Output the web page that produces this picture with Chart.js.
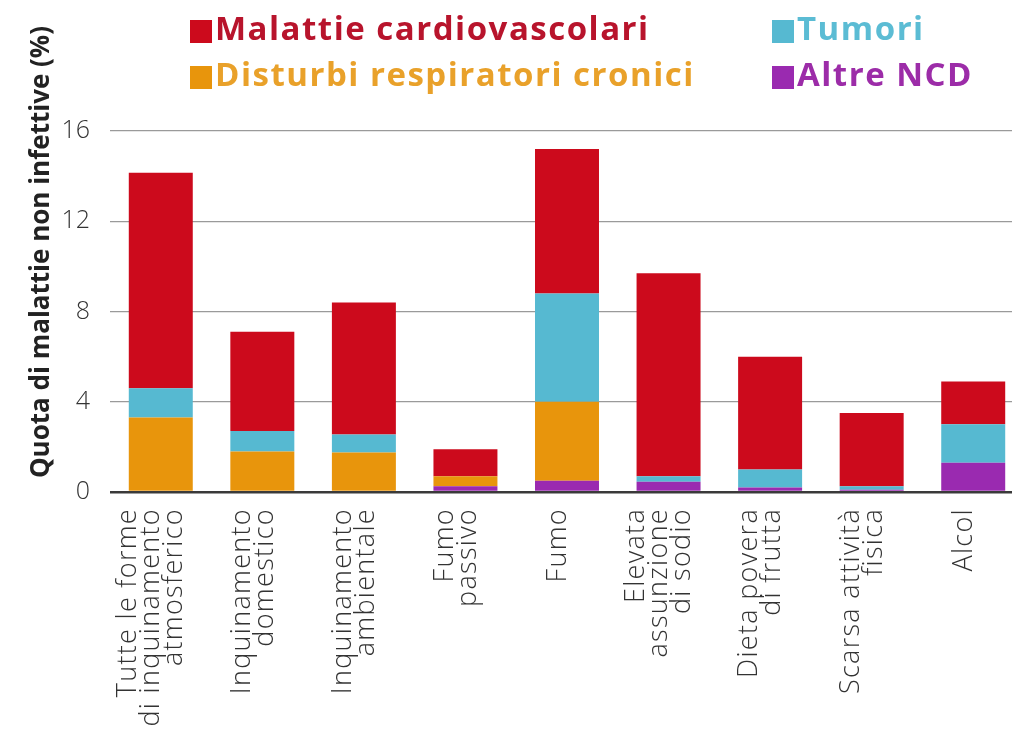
<!DOCTYPE html>
<html>
<head>
<meta charset="utf-8">
<script src="https://cdn.jsdelivr.net/npm/chart.js@4"></script>
<style>
html, body { margin: 0; padding: 0; background: #fff; overflow: hidden; }
#wrap { width: 1025px; height: 749px; }
</style>
</head>
<body>
<div id="wrap"><canvas id="ncdChart"></canvas></div>
<script>
// categorie (etichette su piu righe)
var categories = [
    ["Tutte le forme", "di inquinamento", "atmosferico"],
    ["Inquinamento", "domestico"],
    ["Inquinamento", "ambientale"],
    ["Fumo", "passivo"],
    ["Fumo"],
    ["Elevata", "assunzione", "di sodio"],
    ["Dieta povera", "di frutta"],
    ["Scarsa attività", "fisica"],
    ["Alcol"]
];

// valori (%), dal basso verso l'alto
var altreNcd    = [0,    0,    0,    0.25, 0.5, 0.45, 0.2, 0.1,  1.3];
var respiratori = [3.3,  1.8,  1.75, 0.45, 3.5, 0,    0,   0,    0];
var tumori      = [1.3,  0.9,  0.8,  0,    4.8, 0.25, 0.8, 0.15, 1.7];
var cardio      = [9.55, 4.4,  5.85, 1.2,  6.4, 9.0,  5.0, 3.25, 1.9];

var yTicks = [0, 4, 8, 12, 16];
var yTitle = "Quota di malattie non infettive (%)";

var legendItems = [
    { text: "Malattie cardiovascolari", box: "#cc0a1c", color: "#b8142c", x: 190, y: 31 },
    { text: "Tumori", box: "#56b9d1", color: "#5bbcd4", x: 772, y: 31 },
    { text: "Disturbi respiratori cronici", box: "#e8950c", color: "#e9a12a", x: 190, y: 77 },
    { text: "Altre NCD", box: "#9a2ab0", color: "#9c2ca8", x: 772, y: 77 }
];

var decorations = {
    id: "decorations",
    afterDraw: function (chart) {
        var ctx = chart.ctx;
        var xs = chart.scales.x;

        // titolo asse y
        ctx.save();
        ctx.translate(42, 252);
        ctx.rotate(-Math.PI / 2);
        ctx.font = "bold 26px 'Open Sans'";
        ctx.fillStyle = "#222";
        ctx.textAlign = "center";
        ctx.textBaseline = "middle";
        ctx.fillText(yTitle, 0, 0);
        ctx.restore();

        // etichette categorie, ruotate, blocco centrato un po' a sinistra della barra
        ctx.save();
        ctx.letterSpacing = "1.3px";
        ctx.font = "300 27px 'Open Sans'";
        ctx.fillStyle = "#333";
        ctx.textAlign = "right";
        ctx.textBaseline = "middle";
        categories.forEach(function (lines, i) {
            var px = xs.getPixelForTick(i) - 9;
            lines.forEach(function (line, k) {
                ctx.save();
                ctx.translate(px + (k - (lines.length - 1) / 2) * 23, xs.top + 16);
                ctx.rotate(-Math.PI / 2);
                ctx.fillText(line, 0, 0);
                ctx.restore();
            });
        });
        ctx.restore();

        // legenda
        ctx.save();
        ctx.letterSpacing = "1.5px";
        ctx.font = "bold 33px 'Open Sans'";
        ctx.textBaseline = "middle";
        legendItems.forEach(function (item) {
            ctx.fillStyle = item.box;
            ctx.fillRect(item.x, item.y - 11, 22, 23);
            ctx.fillStyle = item.color;
            ctx.fillText(item.text, item.x + 25, item.y);
        });
        ctx.restore();
    }
};

var config = {
    type: "bar",
    data: {
        labels: categories,
        datasets: [{
            label: "Altre NCD",
            data: altreNcd,
            backgroundColor: "#9a2ab0"
        }, {
            label: "Disturbi respiratori cronici",
            data: respiratori,
            backgroundColor: "#e8950c"
        }, {
            label: "Tumori",
            data: tumori,
            backgroundColor: "#56b9d1"
        }, {
            label: "Malattie cardiovascolari",
            data: cardio,
            backgroundColor: "#cc0a1c"
        }]
    },
    options: {
        responsive: true,
        maintainAspectRatio: false,
        animation: false,
        layout: { padding: { top: 131, right: 1, left: 0, bottom: 0 } },
        plugins: {
            legend: { display: false },
            tooltip: { enabled: false }
        },
        datasets: {
            bar: { barPercentage: 0.63, categoryPercentage: 1, borderWidth: 0 }
        },
        scales: {
            x: {
                stacked: true,
                grid: { display: false },
                border: { display: false },
                ticks: { display: false },
                afterFit: function (scale) { scale.height = 257; }
            },
            y: {
                stacked: true,
                min: 0,
                max: 16,
                afterBuildTicks: function (scale) {
                    scale.ticks = yTicks.map(function (v) { return { value: v }; });
                },
                grid: {
                    drawTicks: false,
                    color: function (c) { return c.tick && c.tick.value === 0 ? "#3a3a3a" : "#9a9a9a"; },
                    lineWidth: function (c) { return c.tick && c.tick.value === 0 ? 2.5 : 1.3; }
                },
                border: { display: false },
                ticks: {
                    padding: 20,
                    color: "#333",
                    font: { family: "'Open Sans'", size: 25, weight: 300 }
                },
                afterFit: function (scale) { scale.width = 110; }
            }
        }
    },
    plugins: [decorations]
};

var ncdChart = new Chart(document.getElementById("ncdChart"), config);
</script>
</body>
</html>
